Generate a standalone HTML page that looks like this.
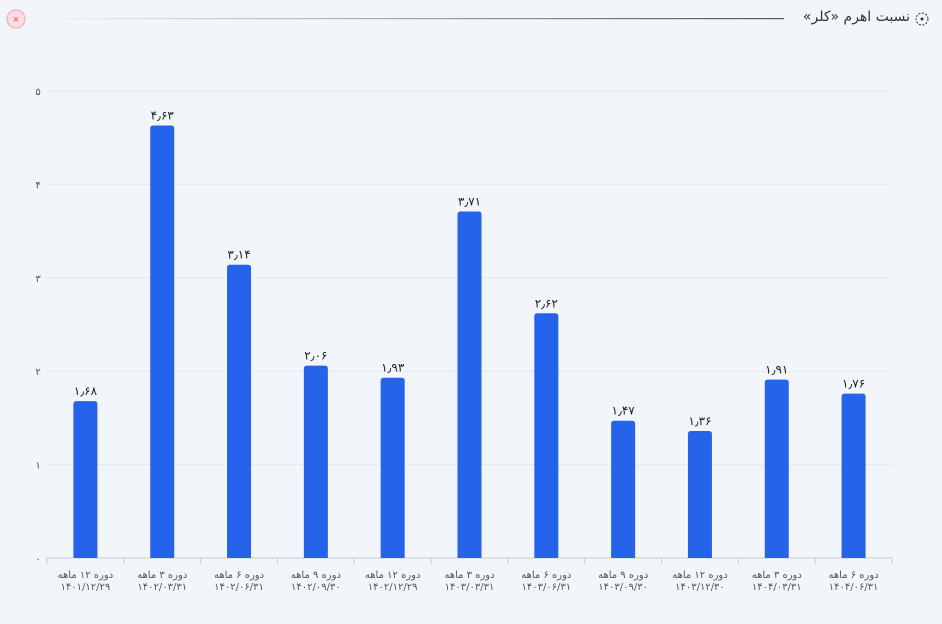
<!DOCTYPE html>
<html><head><meta charset="utf-8"><style>
html,body{margin:0;padding:0;background:#f2f5fa;width:942px;height:624px;overflow:hidden;font-family:"Liberation Sans","DejaVu Sans",sans-serif}
svg{position:absolute;left:0;top:0}
#title{position:absolute;right:32px;top:9px;font:14px "DejaVu Sans",sans-serif;color:#333;direction:rtl;white-space:nowrap}
</style></head><body>
<svg id="c" width="942" height="624">
<defs><linearGradient id="lg" x1="0" x2="1"><stop offset="0" stop-color="#f2f5fa"/><stop offset="1" stop-color="#555"/></linearGradient></defs>
<g><circle cx="16" cy="19" r="9" fill="#fbdde2" stroke="#f2a5b0"/><text x="16" y="23" font-size="11" fill="#e0506a" text-anchor="middle">×</text></g>
<rect x="30" y="18" width="754" height="1.2" fill="url(#lg)"/>
<g><circle cx="922" cy="19" r="6" fill="none" stroke="#333" stroke-dasharray="2 1.5"/><circle cx="922" cy="19" r="1.5" fill="#333"/></g>
<g id="plot"></g>
</svg>
<div id="title">نسبت اهرم «کلر»</div>
<script>
const periods=[12,3,6,9,12,3,6,9,12,3,6];
const dates=["1401/12/29","1402/03/31","1402/06/31","1402/09/30","1402/12/29","1403/03/31","1403/06/31","1403/09/30","1403/12/30","1404/03/31","1404/06/31"];
const values=[1.68,4.63,3.14,2.06,1.93,3.71,2.62,1.47,1.36,1.91,1.76];
const yTicks=[0,1,2,3,4,5];
const NS="http://www.w3.org/2000/svg";
const fa=s=>String(s).replace(/\d/g,d=>"۰۱۲۳۴۵۶۷۸۹"[d]);
const x0=47,x1=892,yb=558,yt=91,ymax=5;
const bw=(x1-x0)/values.length;
const X=i=>x0+bw*(i+0.5);
const Y=v=>yb-(v/ymax)*(yb-yt);
const g=document.getElementById('plot');
function mk(t,a,txt){const e=document.createElementNS(NS,t);for(const k in a)e.setAttribute(k,a[k]);if(txt!=null)e.textContent=txt;g.appendChild(e);return e;}
yTicks.forEach(t=>{
 const l=mk('line',{x1:x0,x2:x1,y1:Y(t),y2:Y(t),stroke:t===0?'#c8ccd4':'#e3e7ee','stroke-width':1});
 
 
 const tx=mk('text',{x:38,y:Y(t)+4,'font-size':10,fill:'#555','text-anchor':'middle','font-family':"'DejaVu Sans',sans-serif"},fa(t));
 
 
});
values.forEach((v,i)=>{
 const cx=X(i),w=24,top=Y(v);
 const b=mk('path',{d:`M${cx-w/2},${yb}V${top+3}Q${cx-w/2},${top} ${cx-w/2+3},${top}H${cx+w/2-3}Q${cx+w/2},${top} ${cx+w/2},${top+3}V${yb}Z`,fill:'#2563eb'});
 
 
 const s=v.toFixed(2).split('.');
 const lab=mk('text',{x:cx,y:top-6,'font-size':12,fill:'#222','text-anchor':'middle','font-family':"'DejaVu Sans',sans-serif"},fa(s[0])+'٫'+fa(s[1]));
 
 
 const tk=mk('line',{x1:x0+bw*i,x2:x0+bw*i,y1:yb,y2:yb+6,stroke:'#c8ccd4'});
 
 
 const t1=mk('text',{x:cx,y:578,'font-size':10,fill:'#555','text-anchor':'middle','font-family':"'DejaVu Sans',sans-serif"},'دوره '+fa(periods[i])+' ماهه');
 
 
 const t2=mk('text',{x:cx,y:590,'font-size':10,fill:'#555','text-anchor':'middle','font-family':"'DejaVu Sans',sans-serif"},fa(dates[i]));
 
 
});
const lt=mk('line',{x1:x1,x2:x1,y1:yb,y2:yb+6,stroke:'#c8ccd4'});


</script>
</body></html>
